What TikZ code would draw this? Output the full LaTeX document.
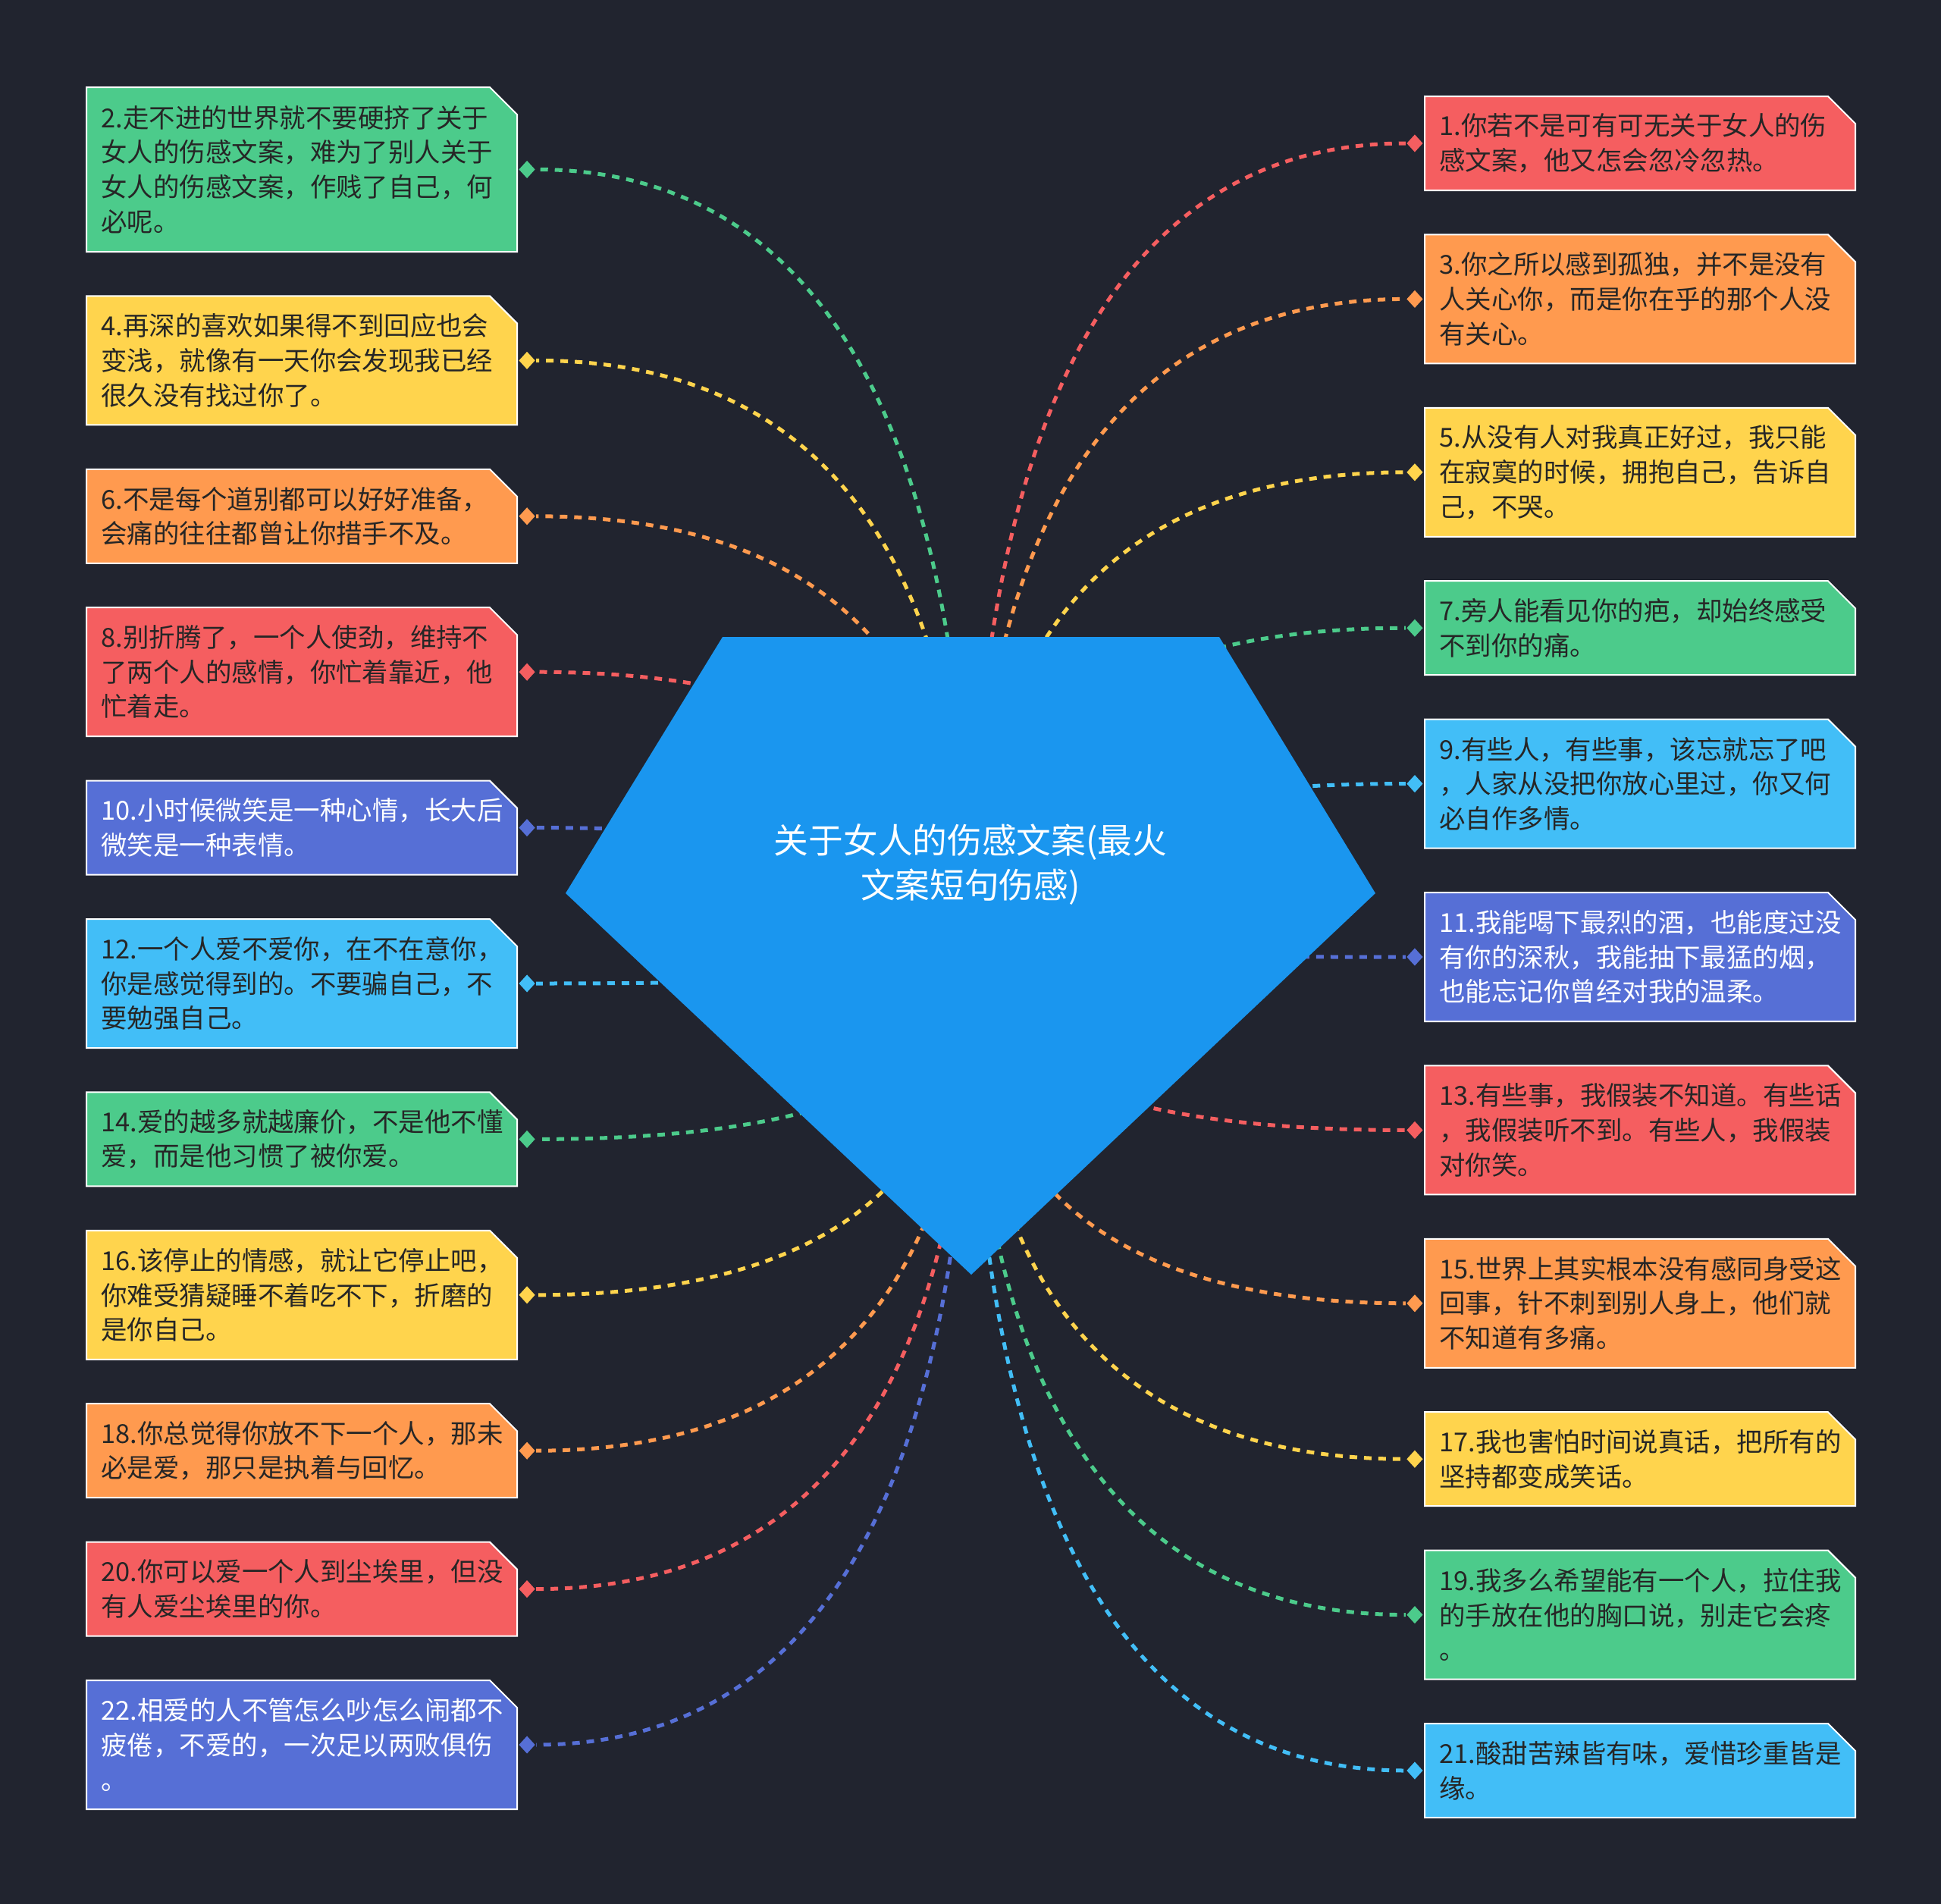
\documentclass[tikz,border=0pt]{standalone}
\usepackage{fontspec}
\setmainfont{Noto Sans CJK SC}
\usepackage{tikz}
\usetikzlibrary{calc,positioning,shapes.misc,shapes.geometric}

\definecolor{bgcol}{HTML}{21242F}
\definecolor{cblue}{HTML}{1A96EF}
\definecolor{cgreen}{HTML}{4CCB8B}
\definecolor{cyellow}{HTML}{FFD44D}
\definecolor{corange}{HTML}{FF9A4F}
\definecolor{cred}{HTML}{F55E60}
\definecolor{cindigo}{HTML}{566FD6}
\definecolor{clight}{HTML}{42BEF7}
\definecolor{txtdark}{HTML}{262626}

\begin{document}
\begin{tikzpicture}[semithick]

    \tikzstyle{card} = [chamfered rectangle, chamfered rectangle corners=north east, chamfered rectangle xsep=1.8mm, chamfered rectangle ysep=1.8mm, draw=white, line width=0.2mm, text width=52.9mm, inner xsep=0.15mm, inner ysep=0pt, minimum width=56.8mm, align=left, text=txtdark, font=\fontsize{9.8pt}{13pt}\selectfont]
    \tikzstyle{lines2} = [minimum height=12.4mm]
    \tikzstyle{lines3} = [minimum height=17mm]
    \tikzstyle{lines4} = [minimum height=21.7mm]
    \tikzstyle{joint} = [diamond, inner sep=0pt, minimum width=2.2mm, minimum height=2.4mm]
    \tikzstyle{link} = [line width=0.5mm, dash pattern=on 1mm off 0.9mm, to path={.. controls ($(\tikztostart)!0.667!(\tikztostart |- \tikztotarget)$) and ($(\tikztotarget)!0.667!(\tikztostart |- \tikztotarget)$) .. (\tikztotarget)}]

    \fill[bgcol] (0,0) rectangle (25.60,-25.11);

    % left column
    \node (n2)  [card, lines4, fill=cgreen, anchor=north west] at (1.13,-1.14) {2.走不进的世界就不要硬挤了关于\\女人的伤感文案，难为了别人关于\\女人的伤感文案，作贱了自己，何\\必呢。};
    \node (n4)  [card, lines3, fill=cyellow, below=5.64mm of n2]   {4.再深的喜欢如果得不到回应也会\\变浅，就像有一天你会发现我已经\\很久没有找过你了。};
    \node (n6)  [card, lines2, fill=corange, below=5.64mm of n4]   {6.不是每个道别都可以好好准备，\\会痛的往往都曾让你措手不及。};
    \node (n8)  [card, lines3, fill=cred, below=5.64mm of n6]      {8.别折腾了，一个人使劲，维持不\\了两个人的感情，你忙着靠近，他\\忙着走。};
    \node (n10) [card, lines2, fill=cindigo, text=white, below=5.64mm of n8] {10.小时候微笑是一种心情，长大后\\微笑是一种表情。};
    \node (n12) [card, lines3, fill=clight, below=5.64mm of n10]   {12.一个人爱不爱你，在不在意你，\\你是感觉得到的。不要骗自己，不\\要勉强自己。};
    \node (n14) [card, lines2, fill=cgreen, below=5.64mm of n12]   {14.爱的越多就越廉价，不是他不懂\\爱，而是他习惯了被你爱。};
    \node (n16) [card, lines3, fill=cyellow, below=5.64mm of n14]  {16.该停止的情感，就让它停止吧，\\你难受猜疑睡不着吃不下，折磨的\\是你自己。};
    \node (n18) [card, lines2, fill=corange, below=5.64mm of n16]  {18.你总觉得你放不下一个人，那未\\必是爱，那只是执着与回忆。};
    \node (n20) [card, lines2, fill=cred, below=5.64mm of n18]     {20.你可以爱一个人到尘埃里，但没\\有人爱尘埃里的你。};
    \node (n22) [card, lines3, fill=cindigo, text=white, below=5.64mm of n20] {22.相爱的人不管怎么吵怎么闹都不\\疲倦，不爱的，一次足以两败俱伤\\。};

    % right column
    \node (n1)  [card, lines2, fill=cred, anchor=north west] at (18.78,-1.26) {1.你若不是可有可无关于女人的伤\\感文案，他又怎会忽冷忽热。};
    \node (n3)  [card, lines3, fill=corange, below=5.64mm of n1]   {3.你之所以感到孤独，并不是没有\\人关心你，而是你在乎的那个人没\\有关心。};
    \node (n5)  [card, lines3, fill=cyellow, below=5.64mm of n3]   {5.从没有人对我真正好过，我只能\\在寂寞的时候，拥抱自己，告诉自\\己，不哭。};
    \node (n7)  [card, lines2, fill=cgreen, below=5.64mm of n5]    {7.旁人能看见你的疤，却始终感受\\不到你的痛。};
    \node (n9)  [card, lines3, fill=clight, below=5.64mm of n7]    {9.有些人，有些事，该忘就忘了吧\\，人家从没把你放心里过，你又何\\必自作多情。};
    \node (n11) [card, lines3, fill=cindigo, text=white, below=5.64mm of n9] {11.我能喝下最烈的酒，也能度过没\\有你的深秋，我能抽下最猛的烟，\\也能忘记你曾经对我的温柔。};
    \node (n13) [card, lines3, fill=cred, below=5.64mm of n11]     {13.有些事，我假装不知道。有些话\\，我假装听不到。有些人，我假装\\对你笑。};
    \node (n15) [card, lines3, fill=corange, below=5.64mm of n13]  {15.世界上其实根本没有感同身受这\\回事，针不刺到别人身上，他们就\\不知道有多痛。};
    \node (n17) [card, lines2, fill=cyellow, below=5.64mm of n15]  {17.我也害怕时间说真话，把所有的\\坚持都变成笑话。};
    \node (n19) [card, lines3, fill=cgreen, below=5.64mm of n17]   {19.我多么希望能有一个人，拉住我\\的手放在他的胸口说，别走它会疼\\。};
    \node (n21) [card, lines2, fill=clight, below=5.64mm of n19]   {21.酸甜苦辣皆有味，爱惜珍重皆是\\缘。};

    % joints
    \node (d2)  [joint, fill=cgreen,  right=0pt of n2]  {};
    \node (d4)  [joint, fill=cyellow, right=0pt of n4]  {};
    \node (d6)  [joint, fill=corange, right=0pt of n6]  {};
    \node (d8)  [joint, fill=cred,    right=0pt of n8]  {};
    \node (d10) [joint, fill=cindigo, right=0pt of n10] {};
    \node (d12) [joint, fill=clight,  right=0pt of n12] {};
    \node (d14) [joint, fill=cgreen,  right=0pt of n14] {};
    \node (d16) [joint, fill=cyellow, right=0pt of n16] {};
    \node (d18) [joint, fill=corange, right=0pt of n18] {};
    \node (d20) [joint, fill=cred,    right=0pt of n20] {};
    \node (d22) [joint, fill=cindigo, right=0pt of n22] {};
    \node (d1)  [joint, fill=cred,    left=0pt of n1]   {};
    \node (d3)  [joint, fill=corange, left=0pt of n3]   {};
    \node (d5)  [joint, fill=cyellow, left=0pt of n5]   {};
    \node (d7)  [joint, fill=cgreen,  left=0pt of n7]   {};
    \node (d9)  [joint, fill=clight,  left=0pt of n9]   {};
    \node (d11) [joint, fill=cindigo, left=0pt of n11]  {};
    \node (d13) [joint, fill=cred,    left=0pt of n13]  {};
    \node (d15) [joint, fill=corange, left=0pt of n15]  {};
    \node (d17) [joint, fill=cyellow, left=0pt of n17]  {};
    \node (d19) [joint, fill=cgreen,  left=0pt of n19]  {};
    \node (d21) [joint, fill=clight,  left=0pt of n21]  {};

    \coordinate (hub) at (12.80,-12.60);

    \draw[link, cgreen]  (hub) to (d2);
    \draw[link, cyellow] (hub) to (d4);
    \draw[link, corange] (hub) to (d6);
    \draw[link, cred]    (hub) to (d8);
    \draw[link, cindigo] (hub) to (d10);
    \draw[link, clight]  (hub) to (d12);
    \draw[link, cgreen]  (hub) to (d14);
    \draw[link, cyellow] (hub) to (d16);
    \draw[link, corange] (hub) to (d18);
    \draw[link, cred]    (hub) to (d20);
    \draw[link, cindigo] (hub) to (d22);
    \draw[link, cred]    (hub) to (d1);
    \draw[link, corange] (hub) to (d3);
    \draw[link, cyellow] (hub) to (d5);
    \draw[link, cgreen]  (hub) to (d7);
    \draw[link, clight]  (hub) to (d9);
    \draw[link, cindigo] (hub) to (d11);
    \draw[link, cred]    (hub) to (d13);
    \draw[link, corange] (hub) to (d15);
    \draw[link, cyellow] (hub) to (d17);
    \draw[link, cgreen]  (hub) to (d19);
    \draw[link, clight]  (hub) to (d21);

    % centre gem
    \fill[cblue] (9.53,-8.40) -- (16.08,-8.40) -- (18.14,-11.78) -- (12.81,-16.81) -- (7.46,-11.78) -- cycle;
    \node (title) at (12.80,-11.40) [text=white, align=center, font=\fontsize{13pt}{16.7pt}\selectfont] {关于女人的伤感文案(最火\\文案短句伤感)};

\end{tikzpicture}
\end{document}
